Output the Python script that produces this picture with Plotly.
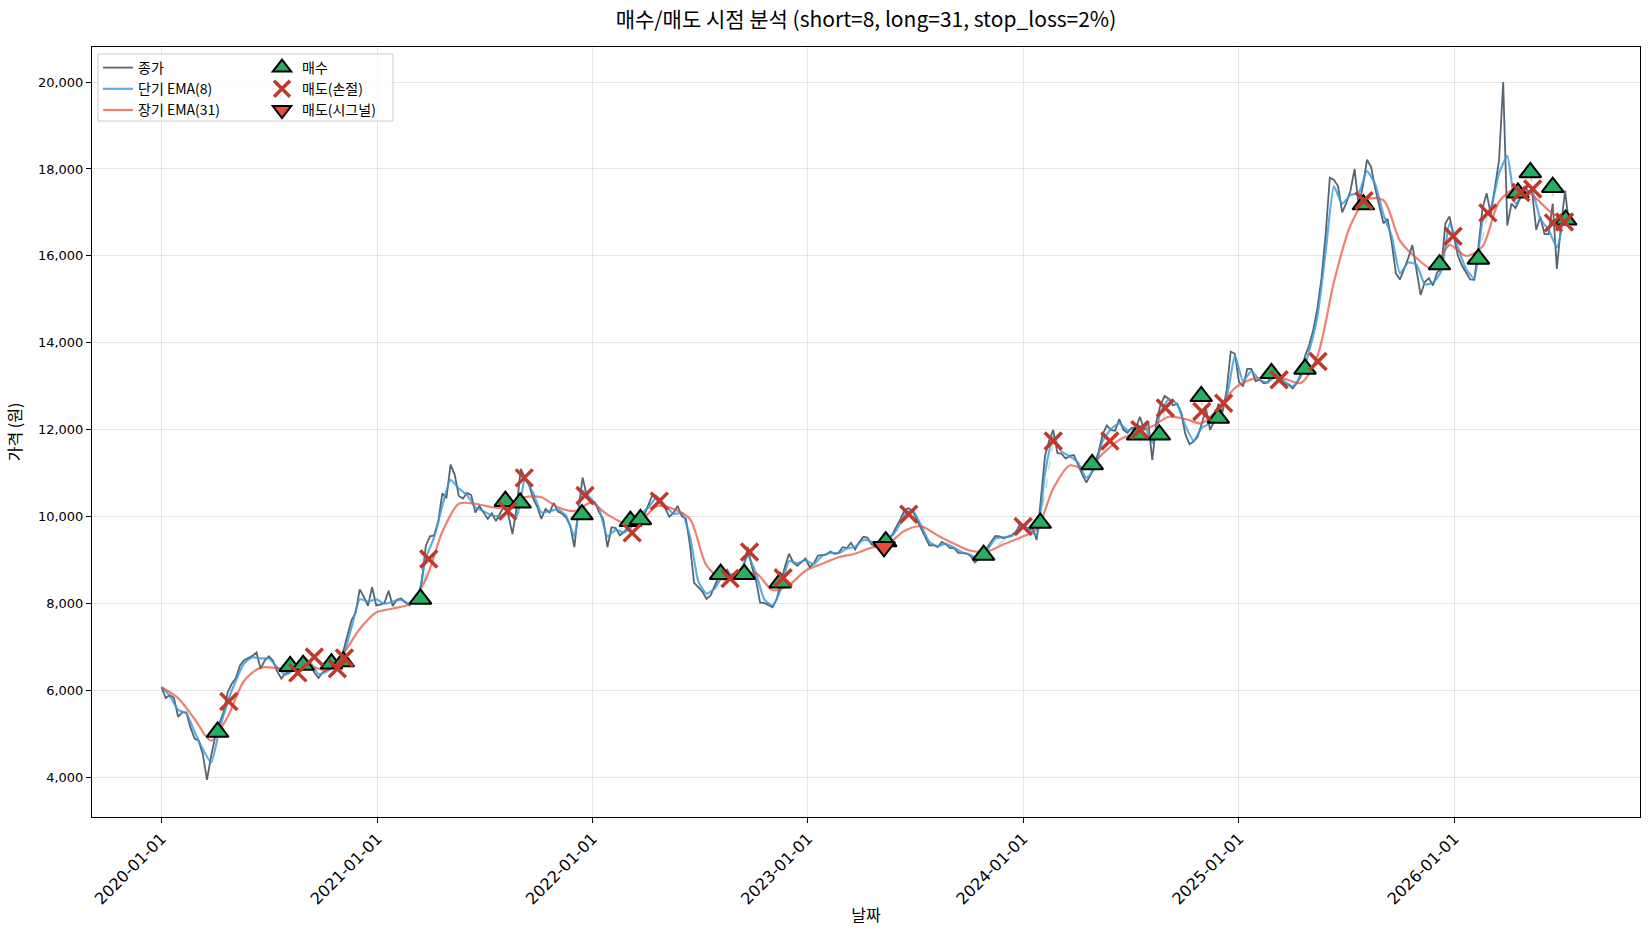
import pandas as pd
import plotly.graph_objects as go

# ---------------- data ----------------
close = [
    6080, 5830, 5900, 5830, 5400, 5500, 5500, 5150, 4900, 4850,
    4530, 3950, 4500, 4950, 5250, 5500, 5960, 6160, 6290, 6580,
    6700, 6750, 6800, 6880, 6500, 6700, 6790, 6690, 6450, 6280,
    6400, 6420, 6510, 6570, 6630, 6730, 6620, 6420, 6290, 6420,
    6470, 6530, 6630, 6730, 6900, 7250, 7620, 7790, 8330, 8160,
    7950, 8380, 7960, 7980, 8020, 8300, 7950, 8090, 8120, 8040,
    7960, 8100, 8130, 8480, 9330, 9550, 9570, 9870, 10540, 10430,
    11200, 10970, 10480, 10420, 10550, 10500, 10100, 10250, 10090, 9950,
    10080, 9900, 10080, 10240, 10040, 9600, 10200, 11100, 10900, 10740,
    10420, 10230, 9950, 10180, 10100, 10320, 10120, 10070, 9980, 9790,
    9300, 10200, 10900, 10480, 10360, 10330, 10100, 9950, 9300, 9760,
    9740, 9570, 9650, 9750, 9800, 10000, 10080, 10060, 10290, 10520,
    10470, 10360, 10200, 10000, 10090, 10250, 10015, 9960, 9350, 8480,
    8380, 8280, 8110, 8190, 8420, 8610, 8680, 8780, 8610, 8610,
    8740, 8860, 9300, 8850, 8540, 8025, 8020, 7970, 7920, 8100,
    8480, 8850, 9150, 8950, 8870, 8950, 9040, 8840, 8930, 9110,
    9120, 9130, 9200, 9150, 9170, 9300, 9280, 9400, 9250, 9420,
    9540, 9520, 9360, 9330, 9280, 9400, 9500, 9590, 9760, 9950,
    10150, 10200, 10120, 9920, 9720, 9500, 9340, 9350, 9300, 9420,
    9370, 9280, 9280, 9170, 9170, 9160, 9100, 8950, 9030, 9150,
    9290, 9430, 9560, 9550, 9505, 9545, 9580, 9650, 9850, 9800,
    9700, 9740, 9470, 10400, 11400, 11750, 12000, 11470, 11450, 11340,
    11400, 11420, 11180, 10980, 10790, 10950, 11200, 11500, 11900, 12100,
    11990, 11980, 12250, 12000, 11930, 12050, 12040, 12300, 12000, 12200,
    11300, 12200, 12580, 12780, 12710, 12560, 12600, 12400, 11900, 11670,
    11730, 11840, 12150, 12490, 12000, 12200, 12600, 12400, 12900, 13800,
    13750, 13100, 13000, 13400, 13400, 13120, 13150, 13070, 13090, 13320,
    13240, 13220, 13050, 13040, 12950, 13070, 13300, 13700, 13950, 14300,
    14800, 15500, 16500, 17800, 17750, 17600, 17000, 17220, 17500, 18000,
    17150, 17600, 18210, 18050, 17550, 17160, 16750, 16850, 16300, 15600,
    15460, 15700, 15950, 16250, 15620, 15100, 15400, 15490, 15320, 15620,
    15700, 16750, 16910, 16500, 16020, 15780, 15620, 15460, 15450, 16200,
    17100, 17440, 16950, 17600, 18200, 20000, 16700, 17200, 17100, 17300,
    17580, 17500, 17480, 16600, 16900, 16500, 16500, 17200, 15700, 16700,
    17500, 16650,
]

ema_short = [
    6080, 5880, 5560, 5480, 5050, 4650, 4350, 5100, 5750, 6230,
    6630, 6770, 6740, 6740, 6540, 6370, 6480, 6600, 6650, 6380,
    6440, 6580, 6820, 7450, 8100, 8050, 8100, 8000, 8050, 8090,
    8000, 8110, 9050, 9520, 10250, 10850, 10650, 10500, 10220, 10130,
    10030, 10020, 10100, 10000, 10850, 10550, 10100, 10130, 10170, 10020,
    9550, 10600, 10420, 10180, 9550, 9700, 9640, 9780, 10050, 10220,
    10460, 10260, 10070, 10080, 9550, 8520, 8230, 8350, 8640, 8680,
    8680, 9100, 8700, 8100, 7960, 8330, 8980, 8930, 9000, 8910,
    9100, 9170, 9160, 9270, 9310, 9470, 9420, 9310, 9460, 9690,
    10060, 10140, 9800, 9420, 9320, 9380, 9290, 9180, 9120, 9010,
    9230, 9500, 9530, 9560, 9760, 9740, 9570, 11000, 11850, 11500,
    11390, 11250, 10900, 11100, 11750, 12020, 12150, 11990, 12040, 12100,
    11700, 12400, 12700, 12590, 12100, 11750, 12050, 12150, 12450, 12750,
    13700, 13120, 13350, 13150, 13090, 13250, 13110, 13000, 13230, 13820,
    14600, 16100, 17600, 17200, 17400, 17450, 17950, 17650, 16950, 16450,
    15600, 15850, 15800, 15350, 15380, 15650, 16750, 16200, 15700, 15480,
    16800, 17100, 17900, 18300, 17200, 17450, 17480, 16850, 16600, 16200,
    17050,
]

ema_long = [
    6080, 5830, 5350, 4850, 5400, 6230, 6530, 6520, 6500, 6560,
    6470, 6850, 7420, 7800, 7890, 7990, 8560, 9650, 10300, 10300,
    10220, 10200, 10450, 10450, 10220, 10130, 10320, 10050, 9860, 9900,
    10250, 10180, 9950, 8880, 8560, 8620, 8700, 8310, 8430,
    8760, 8920, 9070, 9150, 9290, 9380, 9680, 9780, 9570, 9380,
    9220, 9200, 9370, 9520, 9720, 10650, 11180, 11100, 11450, 11770,
    11930, 12080, 12300, 12250, 12150, 12500, 12960, 13160, 13200, 13170,
    13080, 13700, 15400, 16700, 17300, 17280, 16350, 15950, 15700, 16250,
    16000, 16220, 17250, 17550, 17400, 17050, 16800,
]

close_dates = pd.date_range("2020-01-01", periods=len(close), freq="7D")
short_dates = pd.date_range("2020-01-01", periods=len(ema_short), freq="14D")
long_dates = pd.date_range("2020-01-01", periods=len(ema_long), freq="28D")

buy_dates = [
    "2020-04-05", "2020-08-06", "2020-08-28", "2020-10-15", "2020-11-04",
    "2021-03-15", "2021-08-06", "2021-08-31", "2021-12-14", "2022-03-06",
    "2022-03-23", "2022-08-06", "2022-09-15", "2022-11-15", "2023-05-13",
    "2023-10-26", "2024-01-30", "2024-04-27", "2024-07-13", "2024-08-19",
    "2024-10-29", "2024-11-27", "2025-02-25", "2025-04-23", "2025-07-31",
    "2025-12-07", "2026-02-11", "2026-04-19", "2026-05-10", "2026-06-17",
    "2026-07-09",
]
buy_prices = [
    5050, 6560, 6590, 6620, 6670,
    8110, 10360, 10320, 10050, 9900,
    9940, 8680, 8680, 8485, 9430,
    9120, 9855, 11205, 11885, 11885,
    12770, 12270, 13300, 13400, 17180,
    15800, 15930, 17450, 17920, 17580,
    16830,
]

stop_dates = [
    "2020-04-24", "2020-08-19", "2020-09-16", "2020-10-25", "2020-11-06",
    "2021-03-29", "2021-08-10", "2021-09-07", "2021-12-19", "2022-03-09",
    "2022-04-24", "2022-08-22", "2022-09-24", "2022-11-20", "2023-06-21",
    "2024-01-01", "2024-02-21", "2024-05-27", "2024-07-17", "2024-08-29",
    "2024-10-30", "2024-12-06", "2025-03-10", "2025-05-15", "2025-08-01",
    "2025-12-30", "2026-02-27", "2026-04-24", "2026-05-14", "2026-06-18",
    "2026-07-07",
]
stop_prices = [
    5750, 6410, 6775, 6505, 6750,
    9030, 10130, 10895, 10490, 9630,
    10360, 8580, 9190, 8600, 10060,
    9775, 11745, 11745, 12000, 12500,
    12420, 12610, 13150, 13570, 17270,
    16450, 16990, 17460, 17540, 16760,
    16780,
]

signal_dates = ["2023-05-10"]
signal_prices = [9310]

# ---------------- figure ----------------
KFONT = "Noto Sans CJK KR, Noto Sans, sans-serif"
NFONT = "DejaVu Sans, sans-serif"

fig = go.Figure()

fig.add_trace(go.Scatter(x=close_dates, y=close, mode="lines", name="종가",
                         line=dict(color="rgba(44,62,80,0.8)", width=1.8),
                         legend="legend"))
fig.add_trace(go.Scatter(x=short_dates, y=ema_short, mode="lines", name="단기 EMA(8)",
                         line=dict(color="rgba(52,152,219,0.8)", width=2.2,
                                   shape="spline", smoothing=0.5),
                         legend="legend"))
fig.add_trace(go.Scatter(x=long_dates, y=ema_long, mode="lines", name="장기 EMA(31)",
                         line=dict(color="rgba(231,76,60,0.7)", width=2.2,
                                   shape="spline", smoothing=0.8),
                         legend="legend"))

# faint trade lines (buy -> next sell)
sells = sorted(
    [(pd.Timestamp(d), p) for d, p in zip(stop_dates, stop_prices)]
    + [(pd.Timestamp(d), p) for d, p in zip(signal_dates, signal_prices)]
)
for bd, bp in zip(buy_dates, buy_prices):
    bt = pd.Timestamp(bd)
    nxt = [s for s in sells if s[0] >= bt]
    if not nxt:
        continue
    st, sp = nxt[0]
    col = "rgba(39,174,96,0.35)" if sp > bp else "rgba(231,76,60,0.35)"
    fig.add_trace(go.Scatter(x=[bt, st], y=[bp, sp], mode="lines",
                             line=dict(color=col, width=1.5, dash="dash"),
                             showlegend=False, hoverinfo="skip"))

fig.add_trace(go.Scatter(x=pd.to_datetime(buy_dates), y=buy_prices, mode="markers", name="매수",
                         marker=dict(symbol="triangle-up", size=19, color="#27ae60",
                                     line=dict(color="black", width=2)),
                         legend="legend2"))
fig.add_trace(go.Scatter(x=pd.to_datetime(stop_dates), y=stop_prices, mode="markers", name="매도(손절)",
                         marker=dict(symbol="x-thin", size=17, color="#c0392b",
                                     line=dict(color="#c0392b", width=3.5)),
                         legend="legend2"))
fig.add_trace(go.Scatter(x=pd.to_datetime(signal_dates), y=signal_prices, mode="markers", name="매도(시그널)",
                         marker=dict(symbol="triangle-down", size=19, color="#e74c3c",
                                     line=dict(color="black", width=2)),
                         legend="legend2"))

L, R, T, B = 92, 10, 47, 113
W, H = 1650, 930
pw, ph = W - L - R, H - T - B

def px_x(x):
    return (x - L) / pw

def px_y(y):
    return 1 - (y - T) / ph

fig.add_shape(type="rect", xref="paper", yref="paper",
              x0=px_x(98), x1=px_x(393), y0=px_y(121), y1=px_y(54),
              fillcolor="rgba(255,255,255,0.8)", line=dict(color="#cccccc", width=1),
              layer="above")

fig.update_layout(
    width=W, height=H,
    margin=dict(l=L, r=R, t=T, b=B, autoexpand=False),
    paper_bgcolor="white", plot_bgcolor="white",
    font=dict(family=KFONT, size=13, color="black"),
    title=dict(text="매수/매도 시점 분석 (short=8, long=31, stop_loss=2%)",
               x=0.5, xref="paper", xanchor="center",
               y=1 - 20 / H, yref="container", yanchor="middle",
               font=dict(size=21, color="black", family=KFONT)),
    legend=dict(x=px_x(98), y=px_y(52), xanchor="left", yanchor="top",
                bgcolor="rgba(0,0,0,0)", borderwidth=0, itemwidth=30,
                font=dict(size=14), tracegroupgap=0),
    legend2=dict(x=px_x(262), y=px_y(52), xanchor="left", yanchor="top",
                 bgcolor="rgba(0,0,0,0)", borderwidth=0, itemwidth=30,
                 font=dict(size=14), tracegroupgap=0),
    showlegend=True,
)

fig.update_xaxes(
    type="date", range=["2019-09-05", "2026-11-12"],
    tick0="2020-01-01", dtick="M12", tickformat="%Y-%m-%d", tickangle=-45,
    showgrid=True, gridcolor="rgba(0,0,0,0.1)", gridwidth=1,
    showline=True, linecolor="black", linewidth=1, mirror=True,
    ticks="outside", ticklen=5, tickcolor="black",
    tickfont=dict(size=16, family=NFONT), zeroline=False,
    title=dict(text="날짜", font=dict(size=16), standoff=2),
    automargin=False,
)
fig.update_yaxes(
    range=[3095, 20805], tickvals=list(range(4000, 20001, 2000)), tickformat=",d",
    showgrid=True, gridcolor="rgba(0,0,0,0.1)", gridwidth=1,
    showline=True, linecolor="black", linewidth=1, mirror=True,
    ticks="outside", ticklen=5, tickcolor="black",
    tickfont=dict(size=13, family=NFONT), zeroline=False,
    title=dict(text="가격 (원)", font=dict(size=16), standoff=12),
    automargin=False,
)

fig.write_html("out.html")
